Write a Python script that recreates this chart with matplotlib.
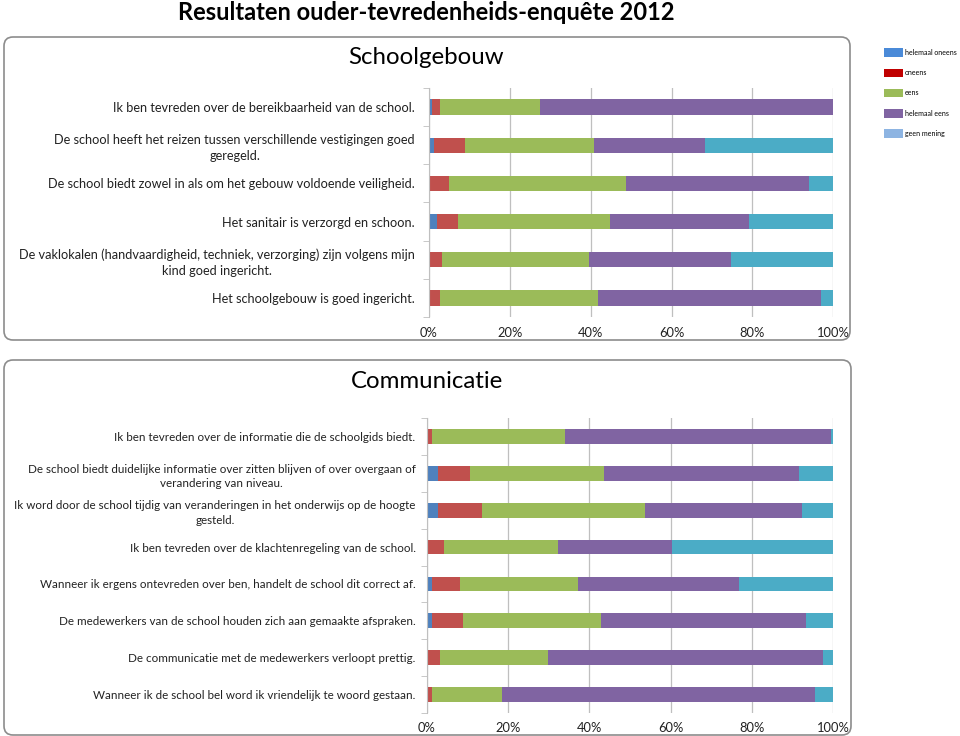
import numpy as np
import matplotlib.pyplot as plt
from matplotlib.patches import FancyBboxPatch, Patch
from matplotlib.transforms import IdentityTransform

plt.rcParams['font.family'] = ['Lato', 'DejaVu Sans']

series = ['helemaal oneens', 'oneens', 'eens', 'helemaal eens', 'geen mening']
bar_colors = ['#4F81BD', '#C0504D', '#9BBB59', '#8064A2', '#4BACC6']
legend_colors = ['#4A8AD8', '#C00000', '#9BBB59', '#8064A2', '#8DB4E2']

# Schoolgebouw (percentages per answer)
school_labels = [
    'Ik ben tevreden over de bereikbaarheid van de school.',
    'De school heeft het reizen tussen verschillende vestigingen goed\ngeregeld.',
    'De school biedt zowel in als om het gebouw voldoende veiligheid.',
    'Het sanitair is verzorgd en schoon.',
    'De vaklokalen (handvaardigheid, techniek, verzorging) zijn volgens mijn\nkind goed ingericht.',
    'Het schoolgebouw is goed ingericht.',
]
school_h_oneens = [0.8, 1.2, 0.0, 2.0, 0.0, 0.0]
school_oneens = [1.8, 7.6, 4.9, 5.2, 3.2, 2.6]
school_eens = [24.8, 32.0, 43.9, 37.6, 36.3, 39.1]
school_h_eens = [72.6, 27.5, 45.1, 34.4, 35.2, 55.2]
school_geen = [0.0, 31.7, 6.1, 20.8, 25.3, 3.1]

# Communicatie
comm_labels = [
    'Ik ben tevreden over de informatie die de schoolgids biedt.',
    'De school biedt duidelijke informatie over zitten blijven of over overgaan of\nverandering van niveau.',
    'Ik word door de school tijdig van veranderingen in het onderwijs op de hoogte\ngesteld.',
    'Ik ben tevreden over de klachtenregeling van de school.',
    'Wanneer ik ergens ontevreden over ben, handelt de school dit correct af.',
    'De medewerkers van de school houden zich aan gemaakte afspraken.',
    'De communicatie met de medewerkers verloopt prettig.',
    'Wanneer ik de school bel word ik vriendelijk te woord gestaan.',
]
comm_h_oneens = [0.0, 2.9, 2.9, 0.4, 1.4, 1.3, 0.0, 0.0]
comm_oneens = [1.3, 7.8, 10.7, 3.8, 6.8, 7.6, 3.3, 1.3]
comm_eens = [32.7, 32.8, 40.0, 28.1, 29.0, 34.0, 26.5, 17.1]
comm_h_eens = [65.4, 48.1, 38.6, 28.1, 39.6, 50.5, 67.7, 77.2]
comm_geen = [0.6, 8.4, 7.8, 39.6, 23.2, 6.6, 2.5, 4.4]


def stacked(ax, labels, data, fs, pad, lsp):
    n = len(labels)
    y = np.arange(n)
    left = np.zeros(n)
    for vals, c in zip(data, bar_colors):
        vals = np.array(vals) / 100.0
        ax.barh(y, vals, left=left, height=0.4, color=c, linewidth=0)
        left += vals
    ax.set_ylim(n - 0.5, -0.5)
    ax.set_xlim(0, 1)
    ax.set_xticks(np.linspace(0, 1, 6))
    ax.set_xticklabels(['0%', '20%', '40%', '60%', '80%', '100%'], fontsize=9.3, color='#222222')
    ax.xaxis.grid(True, color='#BFBFBF', lw=0.9)
    ax.set_axisbelow(True)
    ax.tick_params(axis='x', length=0, pad=7)
    ax.set_yticks(y)
    ax.set_yticklabels(labels, fontsize=fs, color='#222222', linespacing=lsp)
    for t in ax.get_yticklabels():
        t.set_multialignment('center')
    ax.set_yticks(np.arange(n + 1) - 0.5, minor=True)
    ax.tick_params(axis='y', which='major', length=0, pad=pad)
    ax.tick_params(axis='y', which='minor', length=4, color='#BFBFBF', direction='out')
    for s in ['top', 'right', 'bottom']:
        ax.spines[s].set_visible(False)
    ax.spines['left'].set_color('#BFBFBF')


fig = plt.figure(figsize=(9.6, 7.36), dpi=100)
H = 736

# rounded frames (pixel coordinates)
for x0, y0, x1, y1 in [(4, 37, 850, 340), (4, 360, 851, 735)]:
    fr = FancyBboxPatch((x0, H - y1), x1 - x0, y1 - y0, boxstyle='round,pad=0,rounding_size=9',
                        transform=IdentityTransform(), facecolor='white', edgecolor='#8C8C8C', lw=1.2,
                        zorder=-5)
    fig.patches.append(fr)

fig.text(426 / 960, 1 - 13 / H, 'Resultaten ouder-tevredenheids-enquête 2012', ha='center', va='center',
         fontsize=17.0, fontweight='bold')
fig.text(426 / 960, 1 - 58 / H, 'Schoolgebouw', ha='center', va='center', fontsize=17.3)
fig.text(427 / 960, 1 - 381 / H, 'Communicatie', ha='center', va='center', fontsize=17.3)

ax1 = fig.add_axes([429 / 960, 1 - 317 / H, 404.3 / 960, 229 / H])
ax1.patch.set_alpha(0)
stacked(ax1, school_labels,
        [school_h_oneens, school_oneens, school_eens, school_h_eens, school_geen], 9.2, 10, 1.4)

ax2 = fig.add_axes([426.7 / 960, 1 - 712.7 / H, 406.6 / 960, 294.4 / H])
ax2.patch.set_alpha(0)
stacked(ax2, comm_labels,
        [comm_h_oneens, comm_oneens, comm_eens, comm_h_eens, comm_geen], 8.4, 8, 1.4)

handles = [Patch(facecolor=c, edgecolor='none') for c in legend_colors]
fig.legend(handles, series, loc='upper left', bbox_to_anchor=(878 / 960, 1 - 42 / H), frameon=False,
           fontsize=5.0, handlelength=2.7, handleheight=1.5, labelspacing=1.7, handletextpad=0.3)

fig.savefig('out.png', dpi=100)
